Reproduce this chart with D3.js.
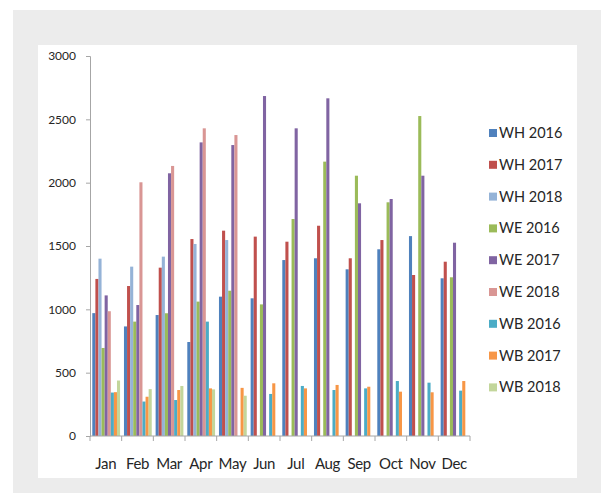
<!DOCTYPE html>
<html>
<head>
<meta charset="utf-8">
<script src="https://cdn.jsdelivr.net/npm/d3@7/dist/d3.min.js"></script>
<style>
  html, body { margin: 0; padding: 0; background: #ffffff; }
  svg { display: block; }
  text { font-family: Lato, "Open Sans", sans-serif; fill: #262626; }
</style>
</head>
<body>
<svg id="chart" width="601" height="500"></svg>
<script>
// Monthly series per site and year
const months = ["Jan","Feb","Mar","Apr","May","Jun","Jul","Aug","Sep","Oct","Nov","Dec"];
const seriesNames = ["WH 2016","WH 2017","WH 2018","WE 2016","WE 2017","WE 2018","WB 2016","WB 2017","WB 2018"];
const seriesColors = ["#4f81bd","#c0504d","#95b3d7","#9bbb59","#8064a2","#d99694","#4bacc6","#f79646","#c3d69b"];

const wh2016 = [970, 865, 955, 742, 1100, 1087, 1389, 1403, 1316, 1474, 1578, 1245];
const wh2017 = [1240, 1184, 1329, 1555, 1621, 1574, 1534, 1660, 1403, 1547, 1271, 1376];
const wh2018 = [1400, 1337, 1416, 1516, 1547, 0, 0, 0, 0, 0, 0, 0];
const we2016 = [695, 903, 969, 1061, 1147, 1039, 1713, 2166, 2055, 1845, 2526, 1253];
const we2017 = [1110, 1034, 2074, 2318, 2297, 2684, 2429, 2666, 1837, 1871, 2055, 1526];
const we2018 = [985, 2003, 2132, 2429, 2376, 0, 0, 0, 0, 0, 0, 0];
const wb2016 = [343, 272, 284, 903, 0, 332, 395, 363, 376, 434, 421, 358];
const wb2017 = [346, 310, 363, 376, 380, 416, 376, 403, 389, 350, 345, 434];
const wb2018 = [438, 370, 395, 368, 318, 0, 0, 0, 0, 0, 0, 0];

const seriesValues = [wh2016, wh2017, wh2018, we2016, we2017, we2018, wb2016, wb2017, wb2018];
const yTicks = [0, 500, 1000, 1500, 2000, 2500, 3000];

const svg = d3.select("#chart");

// Grey frame and white chart area
svg.append("rect").attr("x", 13).attr("y", 10).attr("width", 588).attr("height", 483).attr("fill", "#ececec");
svg.append("rect").attr("x", 38).attr("y", 45).attr("width", 539).attr("height", 433).attr("fill", "#ffffff");

const plot = { left: 90, right: 470, top: 56, bottom: 436 };

const x0 = d3.scaleBand().domain(months).range([plot.left, plot.right]).paddingInner(0).paddingOuter(0);
const x1 = d3.scaleBand().domain(seriesNames).range([2.3, x0.bandwidth() - 1.6]).padding(0);
const y = d3.scaleLinear().domain([0, 3000]).range([plot.bottom, plot.top]);

// Bars
const groups = svg.append("g").selectAll("g")
  .data(months)
  .join("g")
  .attr("transform", d => `translate(${x0(d)},0)`);

groups.selectAll("rect")
  .data((m, i) => seriesNames.map((s, k) => ({ s, k, v: seriesValues[k][i] })))
  .join("rect")
  .filter(d => d.v > 0)
  .attr("x", d => x1(d.s))
  .attr("width", x1.bandwidth())
  .attr("y", d => y(d.v))
  .attr("height", d => y(0) - y(d.v))
  .attr("fill", d => seriesColors[d.k]);

// Y axis
const yAxis = d3.axisLeft(y).tickValues(yTicks).tickSize(4).tickPadding(10).tickFormat(d3.format("d"));
const gy = svg.append("g").attr("transform", `translate(${plot.left},0)`).call(yAxis);
gy.select(".domain").attr("stroke", "#a6a6a6");
gy.selectAll(".tick line").attr("stroke", "#a6a6a6");
gy.selectAll(".tick text").attr("font-size", 12).attr("font-family", "Lato, sans-serif").attr("fill", "#262626");

// X axis: ticks between month groups
const xAxisLine = svg.append("g");
xAxisLine.append("line")
  .attr("x1", plot.left).attr("x2", plot.right)
  .attr("y1", plot.bottom).attr("y2", plot.bottom)
  .attr("stroke", "#a6a6a6");
const boundaries = months.map(m => x0(m)).concat([plot.right]);
xAxisLine.selectAll("line.tk")
  .data(boundaries)
  .join("line")
  .attr("class", "tk")
  .attr("x1", d => d).attr("x2", d => d)
  .attr("y1", plot.bottom).attr("y2", plot.bottom + 5)
  .attr("stroke", "#a6a6a6");
xAxisLine.selectAll("text")
  .data(months)
  .join("text")
  .attr("x", d => x0(d) + x0.bandwidth() / 2)
  .attr("y", 469)
  .attr("text-anchor", "middle")
  .attr("font-size", 15)
  .attr("letter-spacing", -0.3)
  .text(d => d);

// Legend
const legend = svg.append("g").attr("transform", "translate(489,133)");
const items = legend.selectAll("g")
  .data(seriesNames)
  .join("g")
  .attr("transform", (d, i) => `translate(0,${i * 31.8})`);
items.append("rect")
  .attr("x", 0).attr("y", -4).attr("width", 8).attr("height", 8)
  .attr("fill", (d, i) => seriesColors[i]);
items.append("text")
  .attr("x", 10).attr("y", 5)
  .attr("font-size", 14.5)
  .text(d => d);
</script>
</body>
</html>
